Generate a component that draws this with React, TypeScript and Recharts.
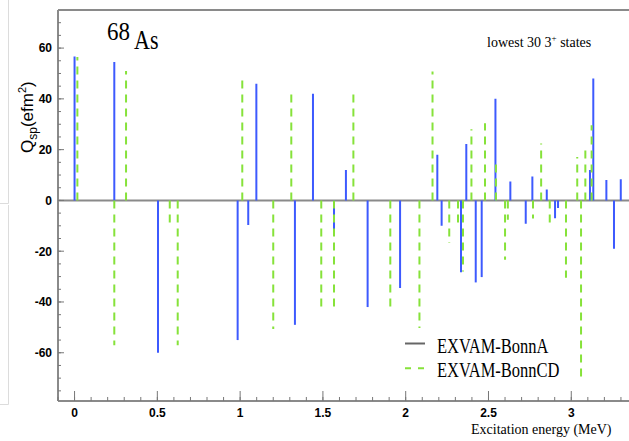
import React from 'react'
import { ComposedChart, Line, ReferenceLine, XAxis, YAxis } from 'recharts'

// Q_sp of the lowest 30 3+ states in 68As, two interactions
const bonnAEnergy = [
  0.0, 0.24, 0.504, 0.985, 1.049, 1.098, 1.331, 1.44, 1.567, 1.639,
  1.77, 1.966, 2.191, 2.217, 2.334, 2.366, 2.423, 2.459, 2.542, 2.632,
  2.725, 2.765, 2.852, 2.902, 2.92, 3.113, 3.133, 3.212, 3.258, 3.299,
]
const bonnAQsp = [
  56.7, 54.5, -60, -55, -9.7, 46, -49, 42, -13, 12,
  -42, -34.5, 18, -10, -28.3, 22.2, -32.3, -30.2, 40, 7.5,
  -9.2, 9.4, 4.3, -7, -3, 12, 48, 8, -19, 8.3,
]
const bonnCDEnergy = [
  0.017, 0.24, 0.311, 0.575, 0.623, 1.013, 1.2, 1.309, 1.49, 1.567,
  1.684, 1.907, 2.083, 2.162, 2.263, 2.316, 2.346, 2.397, 2.479, 2.545,
  2.6, 2.617, 2.769, 2.818, 2.87, 2.968, 3.036, 3.059, 3.085, 3.123,
]
const bonnCDQsp = [
  56.5, -57, 51, -9.5, -57, 48, -50.6, 43.8, -44, -44,
  42.7, -42.3, -50.2, 50.8, -16.8, -10, -28, 28, 30.4, 16.2,
  -23.4, -7.6, -7.1, 22.4, -9.9, -30.5, 17.1, -70.6, 22, 29.6,
]

const xMajorTicks = [0, 0.5, 1, 1.5, 2, 2.5, 3]
const yMajorTicks = [-60, -40, -20, 0, 20, 40, 60]
const xMinorTicks = Array.from({ length: 36 }, (_, i) => Math.round((i - 1) * 10) / 100)
const yMinorTicks = Array.from({ length: 31 }, (_, i) => -75 + i * 5)

const X_DOMAIN: [number, number] = [-0.1, 3.4]
const Y_DOMAIN: [number, number] = [-79, 75]

const BLUE = '#3d5afe'
const GREEN = '#86e23a'
const FRAME = '#8a8a8a'

const tickFont = 'Liberation Sans, Arial, sans-serif'
const serif = 'Liberation Serif, Times New Roman, serif'

// each state becomes a stick from 0 up (or down) to its Q_sp
const stick = (e: number, q: number) => [{ e, q: 0 }, { e, q }]
const rows = [...bonnAEnergy, ...bonnCDEnergy].map((e) => ({ e }))

const XTick = ({ x, y, payload }: any) => (
  <text x={x} y={y + 15.5} textAnchor="middle" fontFamily={tickFont} fontWeight="bold" fontSize={12} fill="#000">
    {payload.value}
  </text>
)

const YTick = ({ x, y, payload }: any) => (
  <text x={x - 6} y={y + 4.3} textAnchor="end" fontFamily={tickFont} fontWeight="bold" fontSize={12} fill="#000">
    {payload.value}
  </text>
)

const NoLabel = () => <g />

export default function App() {
  return (
    <div style={{ position: 'fixed', left: 0, top: 0, width: 629, height: 441, overflow: 'hidden', background: '#fff' }}>
      <ComposedChart width={640} height={441} data={rows} margin={{ top: 10, right: 2.5, bottom: 0, left: 0 }}>
        {/* labelled axes */}
        <XAxis xAxisId="e" dataKey="e" type="number" domain={X_DOMAIN} allowDataOverflow ticks={xMajorTicks} interval={0}
          height={40} tickSize={0} tickMargin={0} tickLine={false} tick={<XTick />}
          axisLine={{ stroke: FRAME, strokeWidth: 2 }} />
        <YAxis yAxisId="q" type="number" domain={Y_DOMAIN} allowDataOverflow ticks={yMajorTicks} interval={0}
          width={58} tickSize={0} tickMargin={0} tickLine={false} tick={<YTick />}
          axisLine={{ stroke: FRAME, strokeWidth: 2 }} />

        {/* inward tick marks */}
        <XAxis xAxisId="eMajor" dataKey="e" type="number" domain={X_DOMAIN} allowDataOverflow ticks={xMajorTicks} interval={0}
          mirror height={0.01} tick={NoLabel} axisLine={false} tickSize={10} tickLine={{ stroke: '#777', strokeWidth: 1 }} />
        <XAxis xAxisId="eMinor" dataKey="e" type="number" domain={X_DOMAIN} allowDataOverflow ticks={xMinorTicks} interval={0}
          mirror height={0.01} tick={NoLabel} axisLine={false} tickSize={4} tickLine={{ stroke: '#777', strokeWidth: 1 }} />
        <YAxis yAxisId="qMajor" type="number" domain={Y_DOMAIN} allowDataOverflow ticks={yMajorTicks} interval={0}
          mirror width={0.01} tick={NoLabel} axisLine={false} tickSize={6} tickLine={{ stroke: '#777', strokeWidth: 1 }} />
        <YAxis yAxisId="qMinor" type="number" domain={Y_DOMAIN} allowDataOverflow ticks={yMinorTicks} interval={0}
          mirror width={0.01} tick={NoLabel} axisLine={false} tickSize={3} tickLine={{ stroke: '#777', strokeWidth: 1 }} />

        {/* top frame */}
        <XAxis xAxisId="frame" orientation="top" dataKey="e" type="number" domain={X_DOMAIN} allowDataOverflow
          mirror tick={false} tickLine={false} axisLine={{ stroke: FRAME, strokeWidth: 2 }} />

        <ReferenceLine xAxisId="e" yAxisId="q" y={0} stroke={FRAME} strokeWidth={2} />

        {bonnAEnergy.map((e, i) => (
          <Line key={`a${i}`} xAxisId="e" yAxisId="q" data={stick(e, bonnAQsp[i])} dataKey="q"
            stroke={BLUE} strokeWidth={2} dot={false} activeDot={false} isAnimationActive={false} />
        ))}
        {bonnCDEnergy.map((e, i) => (
          <Line key={`cd${i}`} xAxisId="e" yAxisId="q" data={stick(e, bonnCDQsp[i])} dataKey="q"
            stroke={GREEN} strokeWidth={2} strokeDasharray="8 6" dot={false} activeDot={false} isAnimationActive={false} />
        ))}
      </ComposedChart>

      <svg width={629} height={441} style={{ position: 'absolute', left: 0, top: 0, pointerEvents: 'none' }}>
        {/* neighbouring panel edge */}
        <path d="M8.5 0 V203.5 H0 M8.5 205 V404.5 H0" fill="none" stroke="#dcdcdc" strokeWidth={1} />

        <text transform="translate(107,40) scale(1,1.12)" fontFamily={serif} fontSize={23} fill="#000">68</text>
        <text transform="translate(134,49) scale(1,1.25)" fontFamily={serif} fontSize={22} fill="#000">As</text>

        <text x={487} y={46.5} fontFamily={serif} fontSize={14} fill="#000">
          lowest 30 3<tspan fontSize={9} dy={-6}>+</tspan><tspan dy={6}> states</tspan>
        </text>

        <text transform="translate(33,153) rotate(-90)" fontFamily={tickFont} fontSize={17} fill="#000">
          Q<tspan fontSize={12} dy={4}>sp</tspan><tspan dy={-4}>(efm</tspan>
          <tspan fontSize={11} dy={-7}>2</tspan><tspan dy={7}>)</tspan>
        </text>

        <text x={471} y={434} fontFamily={serif} fontSize={14} fill="#000">Excitation energy (MeV)</text>

        <line x1={405} x2={425} y1={343.5} y2={343.5} stroke="#666" strokeWidth={2} />
        <text transform="translate(437,352.7) scale(1,1.25)" fontFamily={serif} fontSize={16.5} fill="#000">EXVAM-BonnA</text>
        <line x1={405} x2={425} y1={368.3} y2={368.3} stroke={GREEN} strokeWidth={2} strokeDasharray="6 7" />
        <text transform="translate(437,376.5) scale(1,1.25)" fontFamily={serif} fontSize={16.5} fill="#000">EXVAM-BonnCD</text>
      </svg>
    </div>
  )
}
